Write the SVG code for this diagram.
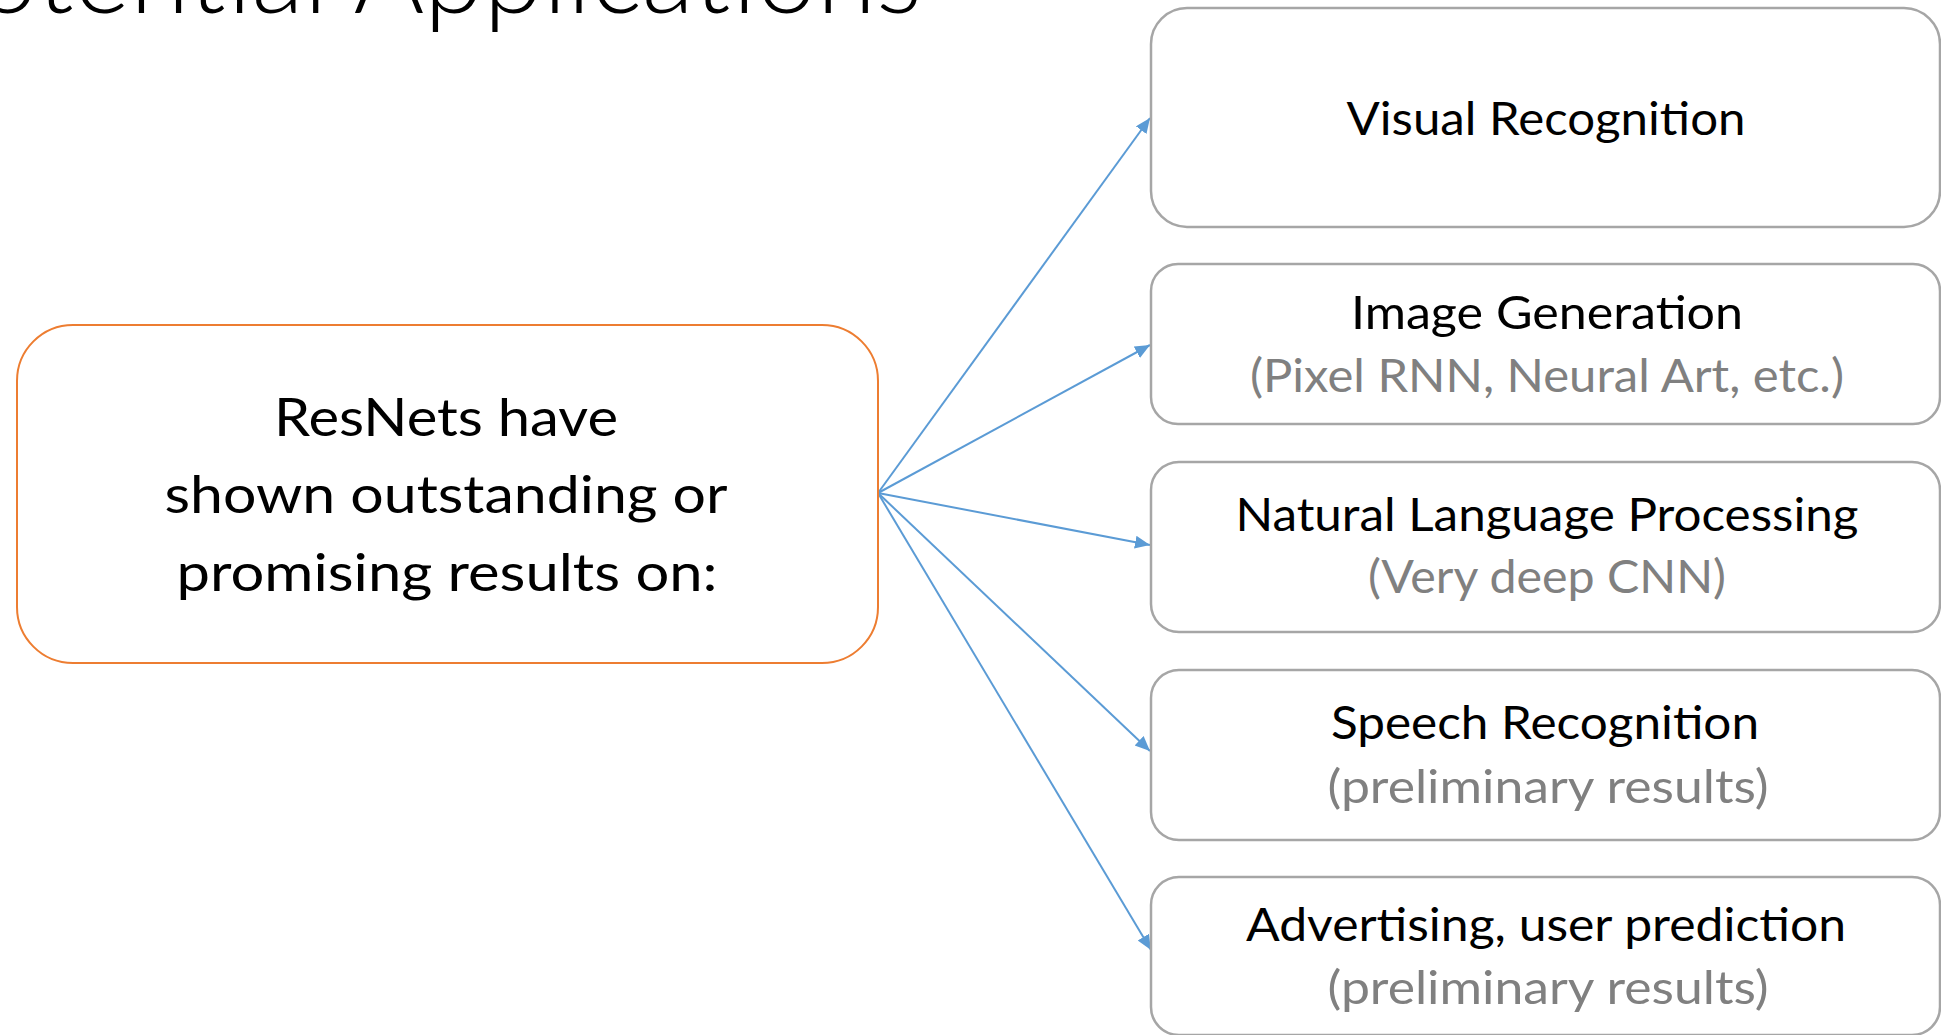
<svg xmlns="http://www.w3.org/2000/svg" width="1941" height="1035" viewBox="0 0 1941 1035">
  <defs>
    <style>
      .title { font-family: Lato, "Open Sans", "Liberation Sans", sans-serif; font-weight: 300; font-size: 108px; fill: #000000; }
      .main { font-family: Lato, "Noto Sans", "Liberation Sans", sans-serif; font-size: 52px; fill: #000000; text-anchor: middle; }
      .lbl { font-family: Lato, "Noto Sans", "Liberation Sans", sans-serif; font-size: 46px; fill: #000000; text-anchor: middle; }
      .sub { font-family: Lato, "Noto Sans", "Liberation Sans", sans-serif; font-size: 46px; fill: #808080; text-anchor: middle; }
      .src { fill: #FFFFFF; stroke: #ED7D31; stroke-width: 2; }
      .box { fill: #FFFFFF; stroke: #A6A6A6; stroke-width: 2.5; }
      .conn { stroke: #5B9BD5; stroke-width: 2; fill: none; marker-end: url(#arrow); }
    </style>
    <marker id="arrow" markerUnits="userSpaceOnUse" markerWidth="16" markerHeight="14" refX="15" refY="6.5" orient="auto">
      <path d="M0,0 L15,6.5 L0,13 Z" fill="#5B9BD5"/>
    </marker>
  </defs>

  <rect x="0" y="0" width="1941" height="1035" fill="#FFFFFF"/>

  <text class="title" x="922" y="13" text-anchor="end">Potential Applications</text>

  <g id="connectors">
    <line class="conn" x1="878" y1="493" x2="1150" y2="118"/>
    <line class="conn" x1="878" y1="493" x2="1150" y2="345"/>
    <line class="conn" x1="878" y1="493" x2="1150" y2="545"/>
    <line class="conn" x1="878" y1="493" x2="1150" y2="751"/>
    <line class="conn" x1="878" y1="493" x2="1151" y2="950"/>
  </g>

  <g id="resnets">
    <rect class="src" x="17" y="325" width="861" height="338" rx="56" ry="56"/>
    <text class="main" x="446" y="436" textLength="344" lengthAdjust="spacingAndGlyphs">ResNets have</text>
    <text class="main" x="446" y="513" textLength="563" lengthAdjust="spacingAndGlyphs">shown outstanding or</text>
    <text class="main" x="447" y="591" textLength="541" lengthAdjust="spacingAndGlyphs">promising results on:</text>
  </g>

  <g id="visual-recognition">
    <rect class="box" x="1151" y="8" width="789" height="219" rx="36" ry="36"/>
    <text class="lbl" x="1546" y="135" textLength="399" lengthAdjust="spacingAndGlyphs">Visual Recognition</text>
  </g>

  <g id="image-generation">
    <rect class="box" x="1151" y="264" width="789" height="160" rx="27" ry="27"/>
    <text class="lbl" x="1547" y="329" textLength="392" lengthAdjust="spacingAndGlyphs">Image Generation</text>
    <text class="sub" x="1547" y="392" textLength="594" lengthAdjust="spacingAndGlyphs">(Pixel RNN, Neural Art, etc.)</text>
  </g>

  <g id="nlp">
    <rect class="box" x="1151" y="462" width="789" height="170" rx="28" ry="28"/>
    <text class="lbl" x="1547" y="531" textLength="623" lengthAdjust="spacingAndGlyphs">Natural Language Processing</text>
    <text class="sub" x="1547" y="593" textLength="358" lengthAdjust="spacingAndGlyphs">(Very deep CNN)</text>
  </g>

  <g id="speech-recognition">
    <rect class="box" x="1151" y="670" width="789" height="170" rx="28" ry="28"/>
    <text class="lbl" x="1545" y="739" textLength="428" lengthAdjust="spacingAndGlyphs">Speech Recognition</text>
    <text class="sub" x="1548" y="803" textLength="441" lengthAdjust="spacingAndGlyphs">(preliminary results)</text>
  </g>

  <g id="advertising">
    <rect class="box" x="1151" y="877" width="789" height="158" rx="28" ry="28"/>
    <text class="lbl" x="1546" y="941" textLength="600" lengthAdjust="spacingAndGlyphs">Advertising, user prediction</text>
    <text class="sub" x="1548" y="1004" textLength="441" lengthAdjust="spacingAndGlyphs">(preliminary results)</text>
  </g>
</svg>
